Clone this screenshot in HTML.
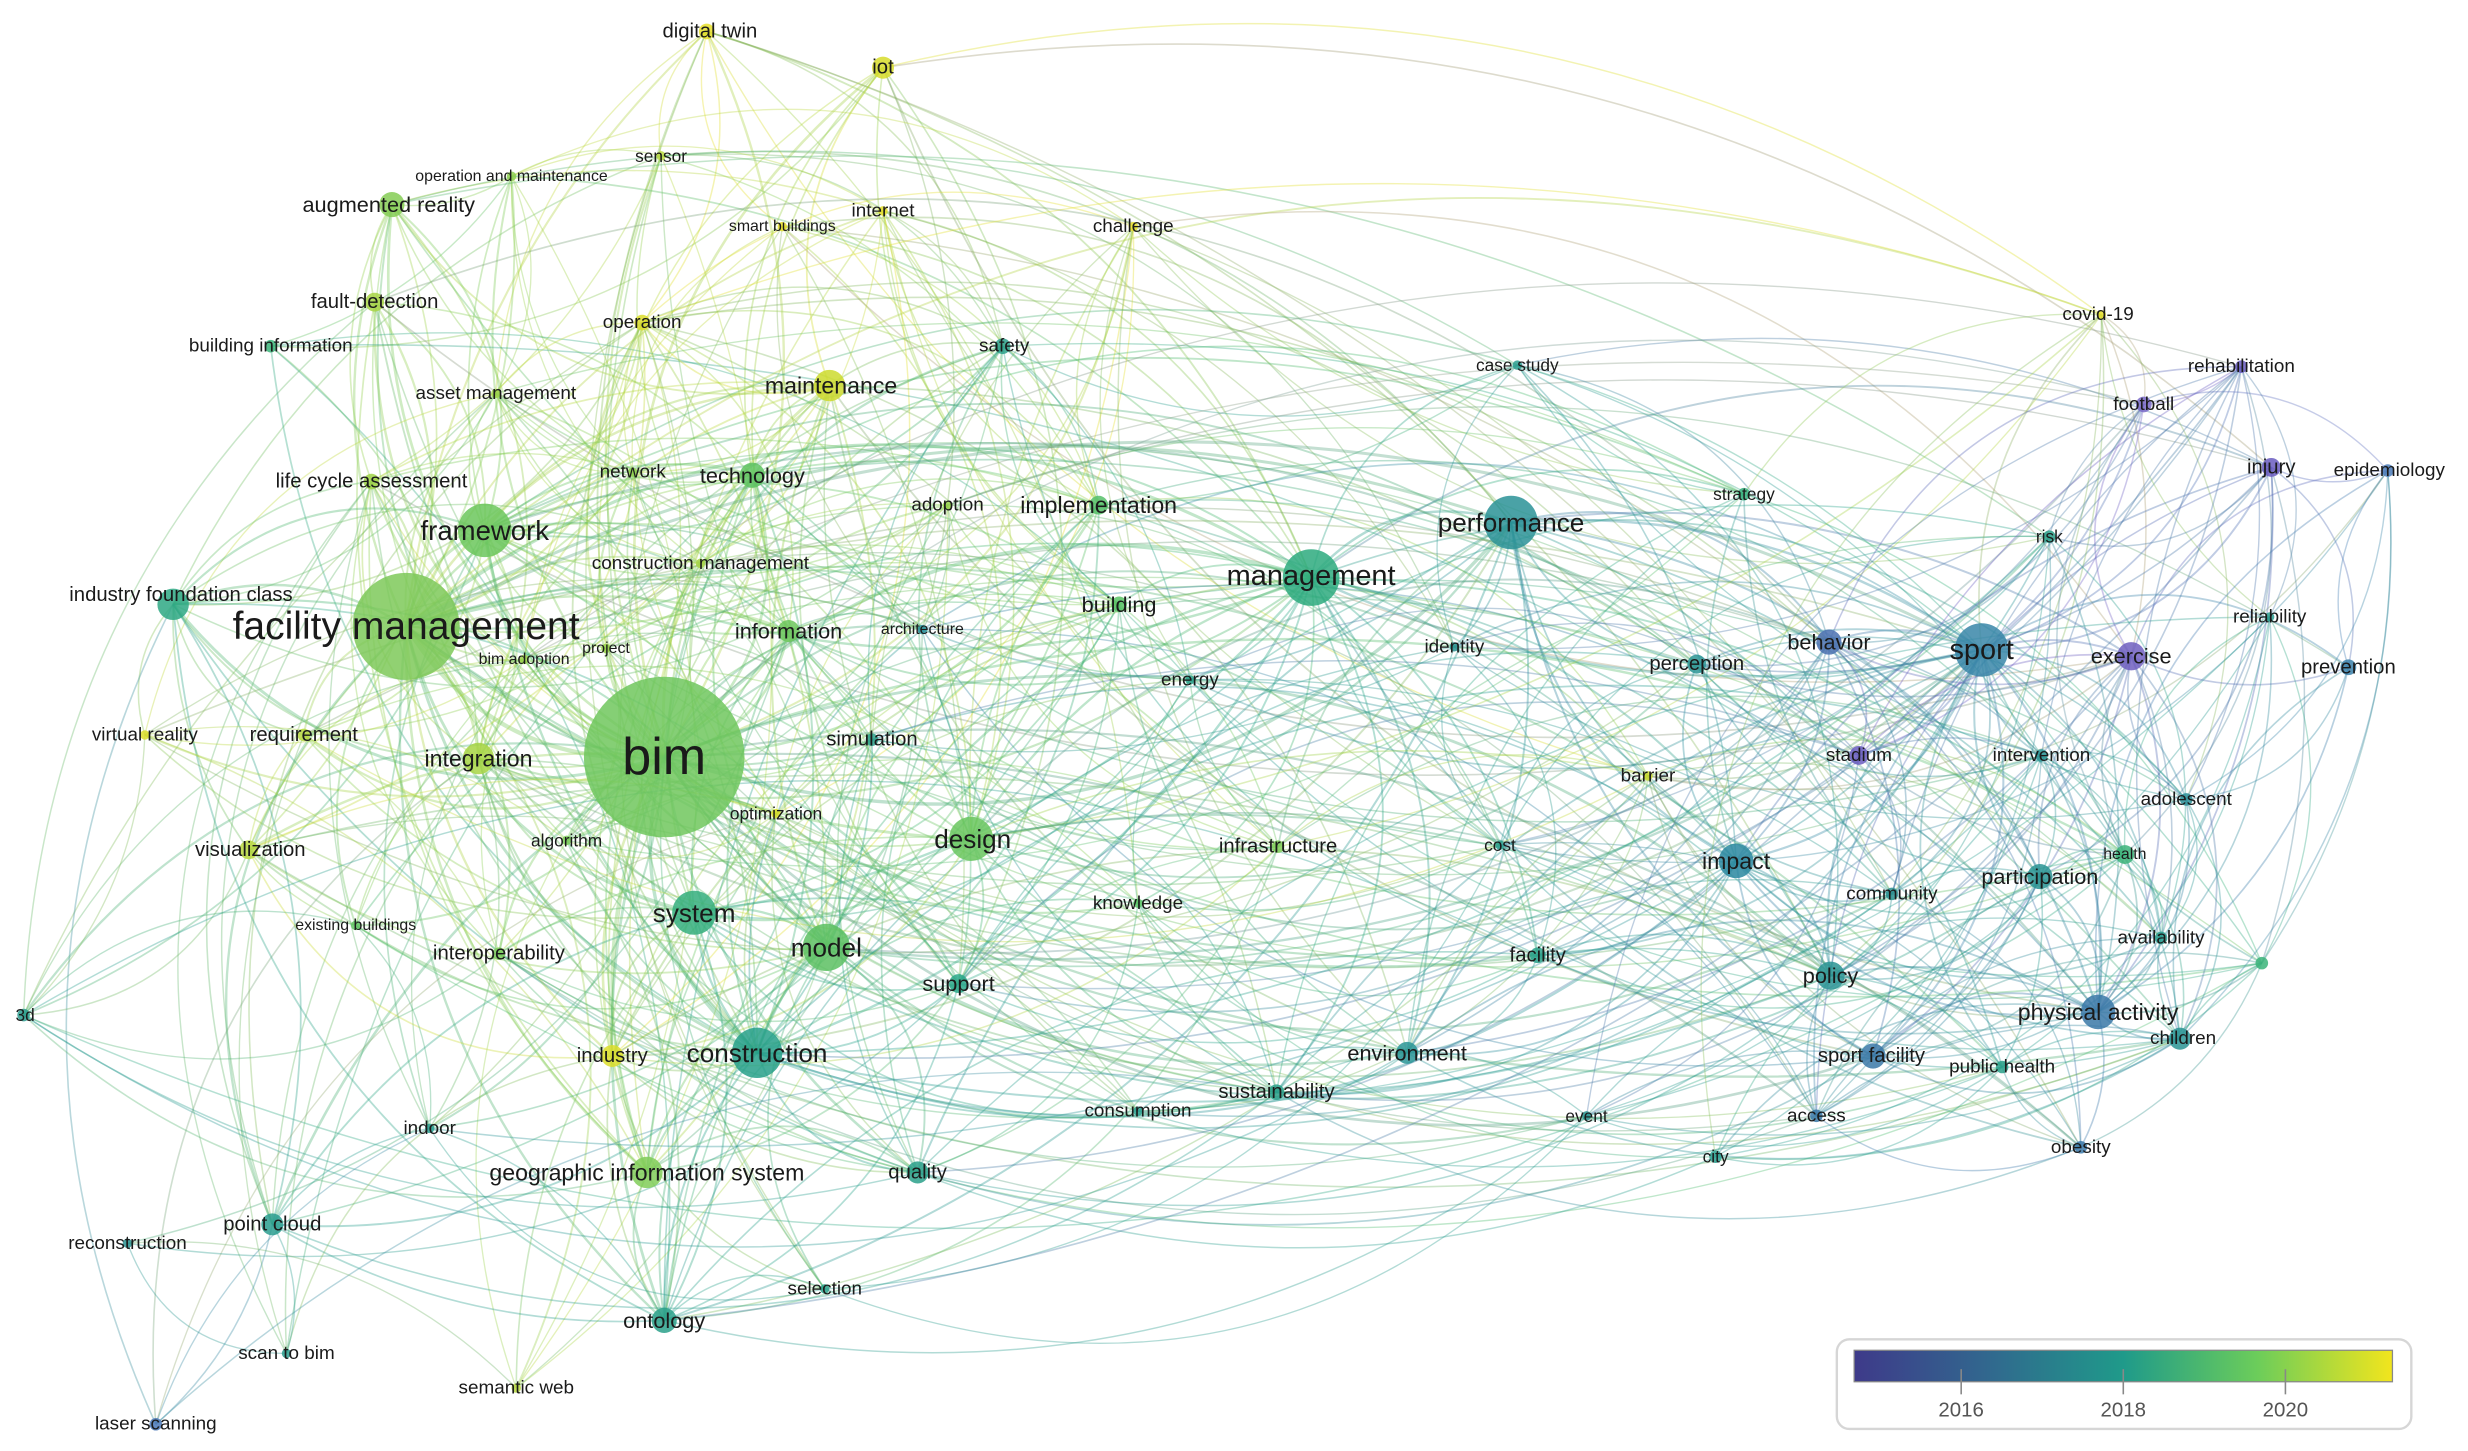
<!DOCTYPE html>
<html><head><meta charset="utf-8"><style>
html,body{margin:0;padding:0;background:#fff;}
svg{display:block;}
text{font-family:"Liberation Sans",sans-serif;fill:#1a1a1a;text-anchor:middle;dominant-baseline:central;}
</style></head><body>
<svg id="s" width="2468" height="1451" viewBox="0 0 1568 922" preserveAspectRatio="none" xmlns="http://www.w3.org/2000/svg">
<defs><linearGradient id="vg" x1="0" x2="1" y1="0" y2="0">
<stop offset="0" stop-color="#3e3a8a"/><stop offset="0.25" stop-color="#31688e"/><stop offset="0.5" stop-color="#1f9a8a"/><stop offset="0.75" stop-color="#6ccd5a"/><stop offset="1" stop-color="#f2e51d"/></linearGradient></defs>
<g id="edges" fill="none"></g>
<g id="nodes" opacity="0.85">
<circle cx="449" cy="20" r="5" fill="#e6df2a"/>
<circle cx="561" cy="43" r="7" fill="#d7dc2a"/>
<circle cx="420" cy="99" r="3" fill="#b8d840"/>
<circle cx="325" cy="112" r="3" fill="#8ccf50"/>
<circle cx="249" cy="130" r="8" fill="#86cd55"/>
<circle cx="497" cy="144" r="3" fill="#e6df2a"/>
<circle cx="561" cy="134" r="3" fill="#e6df2a"/>
<circle cx="720" cy="144" r="3" fill="#ece130"/>
<circle cx="238" cy="192" r="6" fill="#a8d545"/>
<circle cx="172" cy="220" r="4" fill="#3cb47a"/>
<circle cx="408" cy="205" r="5" fill="#dcdd2a"/>
<circle cx="637" cy="220" r="5" fill="#2aa08a"/>
<circle cx="527" cy="245" r="10" fill="#cdda2e"/>
<circle cx="315" cy="250" r="3" fill="#a0d448"/>
<circle cx="236" cy="306" r="5" fill="#a0d448"/>
<circle cx="402" cy="300" r="3" fill="#90d04e"/>
<circle cx="478" cy="302" r="8" fill="#60c462"/>
<circle cx="602" cy="321" r="3" fill="#98d24a"/>
<circle cx="698" cy="321" r="6" fill="#55c068"/>
<circle cx="308" cy="337" r="17" fill="#6cc75c"/>
<circle cx="445" cy="358" r="3" fill="#a8d545"/>
<circle cx="110" cy="384" r="10" fill="#2ea884"/>
<circle cx="258" cy="398" r="34" fill="#7ec95a"/>
<circle cx="333" cy="419" r="3" fill="#9ad24a"/>
<circle cx="385" cy="412" r="3" fill="#9ad24a"/>
<circle cx="501" cy="401" r="7" fill="#6cc75c"/>
<circle cx="586" cy="400" r="3" fill="#2a8f9a"/>
<circle cx="711" cy="384" r="5" fill="#58c264"/>
<circle cx="833" cy="367" r="18" fill="#2daa7e"/>
<circle cx="960" cy="332" r="17" fill="#2a9296"/>
<circle cx="964" cy="232" r="3" fill="#2a9d8f"/>
<circle cx="1108" cy="314" r="4" fill="#35b07c"/>
<circle cx="924" cy="411" r="3" fill="#2a9090"/>
<circle cx="756" cy="432" r="3" fill="#2aa08a"/>
<circle cx="422" cy="481" r="51" fill="#70c75e"/>
<circle cx="92" cy="467" r="3" fill="#dcdd2a"/>
<circle cx="193" cy="467" r="4" fill="#b8d840"/>
<circle cx="304" cy="482" r="10" fill="#a8d545"/>
<circle cx="554" cy="470" r="4" fill="#2aa08a"/>
<circle cx="493" cy="517" r="3" fill="#dcdd2a"/>
<circle cx="360" cy="534" r="3" fill="#7ccc5a"/>
<circle cx="617" cy="533" r="14" fill="#68c55e"/>
<circle cx="812" cy="538" r="4" fill="#80cc58"/>
<circle cx="158" cy="540" r="6" fill="#b8d840"/>
<circle cx="723" cy="574" r="3" fill="#58c264"/>
<circle cx="953" cy="537" r="3" fill="#2a9d8f"/>
<circle cx="1047" cy="493" r="3" fill="#cdda2e"/>
<circle cx="226" cy="588" r="3" fill="#60c462"/>
<circle cx="441" cy="580" r="14" fill="#34ae7c"/>
<circle cx="525" cy="602" r="15" fill="#5cc062"/>
<circle cx="317" cy="606" r="4" fill="#7ccc5a"/>
<circle cx="609" cy="625" r="6" fill="#2aa88a"/>
<circle cx="977" cy="607" r="5" fill="#2aa08a"/>
<circle cx="15" cy="645" r="4" fill="#2a9d8f"/>
<circle cx="389" cy="671" r="7" fill="#dcdd2a"/>
<circle cx="481" cy="669" r="16" fill="#27a08a"/>
<circle cx="894" cy="669" r="7" fill="#2a9596"/>
<circle cx="811" cy="694" r="5" fill="#2aa08a"/>
<circle cx="723" cy="706" r="3" fill="#2a9d8f"/>
<circle cx="1008" cy="709" r="3" fill="#2a9490"/>
<circle cx="273" cy="717" r="3" fill="#2a9d8f"/>
<circle cx="411" cy="745" r="10" fill="#80cc58"/>
<circle cx="583" cy="745" r="7" fill="#2aa08a"/>
<circle cx="173" cy="778" r="7" fill="#2a9d8f"/>
<circle cx="81" cy="790" r="3" fill="#2a9090"/>
<circle cx="524" cy="819" r="3" fill="#2aa08a"/>
<circle cx="422" cy="839" r="8" fill="#2aa08a"/>
<circle cx="182" cy="860" r="3" fill="#2a9d8f"/>
<circle cx="328" cy="882" r="3" fill="#b8d840"/>
<circle cx="99" cy="905" r="4" fill="#4a78b8"/>
<circle cx="1335" cy="200" r="3" fill="#e6df2a"/>
<circle cx="1424" cy="233" r="4" fill="#6a5cc0"/>
<circle cx="1362" cy="257" r="5" fill="#7a6ac8"/>
<circle cx="1443" cy="297" r="6" fill="#6a5cc0"/>
<circle cx="1517" cy="299" r="4" fill="#4a7ab8"/>
<circle cx="1302" cy="341" r="4" fill="#2aa08a"/>
<circle cx="1442" cy="392" r="3" fill="#2a9d8f"/>
<circle cx="1162" cy="408" r="8" fill="#4a70b0"/>
<circle cx="1259" cy="413" r="17" fill="#3886a8"/>
<circle cx="1354" cy="417" r="9" fill="#7060c0"/>
<circle cx="1492" cy="424" r="5" fill="#3a80aa"/>
<circle cx="1078" cy="422" r="6" fill="#2a9494"/>
<circle cx="1181" cy="480" r="6" fill="#6a5cc0"/>
<circle cx="1297" cy="480" r="4" fill="#2a9494"/>
<circle cx="1389" cy="508" r="4" fill="#2a8f98"/>
<circle cx="1103" cy="547" r="11" fill="#2a88a0"/>
<circle cx="1350" cy="543" r="6" fill="#3cb47a"/>
<circle cx="1296" cy="557" r="8" fill="#2a9494"/>
<circle cx="1202" cy="568" r="4" fill="#2a9090"/>
<circle cx="1373" cy="596" r="4" fill="#2a9d8f"/>
<circle cx="1437" cy="612" r="4" fill="#3cb47a"/>
<circle cx="1163" cy="620" r="9" fill="#2a9494"/>
<circle cx="1333" cy="643" r="11" fill="#3a78a8"/>
<circle cx="1385" cy="660" r="7" fill="#2a9494"/>
<circle cx="1190" cy="671" r="8" fill="#3a78a8"/>
<circle cx="1272" cy="678" r="4" fill="#2aa08a"/>
<circle cx="1154" cy="709" r="4" fill="#3a78a8"/>
<circle cx="1090" cy="735" r="4" fill="#2a9d8f"/>
<circle cx="1322" cy="729" r="4" fill="#3a78a8"/>
</g>
<g id="labels">
<text x="451" y="20" font-size="14">digital twin</text>
<text x="561" y="43" font-size="14">iot</text>
<text x="420" y="99" font-size="12">sensor</text>
<text x="325" y="112" font-size="11">operation and maintenance</text>
<text x="247" y="130" font-size="15">augmented reality</text>
<text x="497" y="144" font-size="11">smart buildings</text>
<text x="561" y="134" font-size="13">internet</text>
<text x="720" y="144" font-size="13">challenge</text>
<text x="238" y="192" font-size="14">fault-detection</text>
<text x="172" y="220" font-size="13">building information</text>
<text x="408" y="205" font-size="13">operation</text>
<text x="638" y="220" font-size="13">safety</text>
<text x="528" y="245" font-size="16">maintenance</text>
<text x="315" y="250" font-size="13">asset management</text>
<text x="236" y="306" font-size="14">life cycle assessment</text>
<text x="402" y="300" font-size="13">network</text>
<text x="478" y="302" font-size="15">technology</text>
<text x="602" y="321" font-size="13">adoption</text>
<text x="698" y="321" font-size="16">implementation</text>
<text x="308" y="337" font-size="19">framework</text>
<text x="445" y="358" font-size="13">construction management</text>
<text x="115" y="378" font-size="14">industry foundation class</text>
<text x="258" y="398" font-size="27">facility management</text>
<text x="333" y="419" font-size="11">bim adoption</text>
<text x="385" y="412" font-size="11">project</text>
<text x="501" y="401" font-size="15">information</text>
<text x="586" y="400" font-size="11">architecture</text>
<text x="711" y="384" font-size="15">building</text>
<text x="833" y="366" font-size="20">management</text>
<text x="960" y="332" font-size="18">performance</text>
<text x="964" y="232" font-size="12">case study</text>
<text x="1108" y="314" font-size="12">strategy</text>
<text x="924" y="411" font-size="13">identity</text>
<text x="756" y="432" font-size="13">energy</text>
<text x="422" y="481" font-size="36">bim</text>
<text x="92" y="467" font-size="13">virtual reality</text>
<text x="193" y="467" font-size="14">requirement</text>
<text x="304" y="482" font-size="16">integration</text>
<text x="554" y="470" font-size="14">simulation</text>
<text x="493" y="517" font-size="12">optimization</text>
<text x="360" y="534" font-size="12">algorithm</text>
<text x="618" y="533" font-size="18">design</text>
<text x="812" y="538" font-size="14">infrastructure</text>
<text x="159" y="540" font-size="14">visualization</text>
<text x="723" y="574" font-size="13">knowledge</text>
<text x="953" y="537" font-size="12">cost</text>
<text x="1047" y="493" font-size="13">barrier</text>
<text x="226" y="588" font-size="11">existing buildings</text>
<text x="441" y="580" font-size="18">system</text>
<text x="525" y="602" font-size="18">model</text>
<text x="317" y="606" font-size="14">interoperability</text>
<text x="609" y="625" font-size="15">support</text>
<text x="977" y="607" font-size="14">facility</text>
<text x="16" y="645" font-size="12">3d</text>
<text x="389" y="671" font-size="14">industry</text>
<text x="481" y="669" font-size="18">construction</text>
<text x="894" y="669" font-size="15">environment</text>
<text x="811" y="694" font-size="14">sustainability</text>
<text x="723" y="706" font-size="13">consumption</text>
<text x="1008" y="709" font-size="12">event</text>
<text x="273" y="717" font-size="13">indoor</text>
<text x="411" y="745" font-size="16">geographic information system</text>
<text x="583" y="745" font-size="14">quality</text>
<text x="173" y="778" font-size="14">point cloud</text>
<text x="81" y="790" font-size="13">reconstruction</text>
<text x="524" y="819" font-size="13">selection</text>
<text x="422" y="839" font-size="15">ontology</text>
<text x="182" y="860" font-size="13">scan to bim</text>
<text x="328" y="882" font-size="13">semantic web</text>
<text x="99" y="905" font-size="13">laser scanning</text>
<text x="1333" y="200" font-size="13">covid-19</text>
<text x="1424" y="233" font-size="13">rehabilitation</text>
<text x="1362" y="257" font-size="13">football</text>
<text x="1443" y="297" font-size="14">injury</text>
<text x="1518" y="299" font-size="13">epidemiology</text>
<text x="1302" y="341" font-size="12">risk</text>
<text x="1442" y="392" font-size="13">reliability</text>
<text x="1162" y="408" font-size="15">behavior</text>
<text x="1259" y="413" font-size="20">sport</text>
<text x="1354" y="417" font-size="15">exercise</text>
<text x="1492" y="424" font-size="14">prevention</text>
<text x="1078" y="422" font-size="14">perception</text>
<text x="1181" y="480" font-size="13">stadium</text>
<text x="1297" y="480" font-size="13">intervention</text>
<text x="1389" y="508" font-size="13">adolescent</text>
<text x="1103" y="547" font-size="16">impact</text>
<text x="1350" y="543" font-size="11">health</text>
<text x="1296" y="557" font-size="15">participation</text>
<text x="1202" y="568" font-size="13">community</text>
<text x="1373" y="596" font-size="13">availability</text>
<text x="1163" y="620" font-size="15">policy</text>
<text x="1333" y="643" font-size="16">physical activity</text>
<text x="1387" y="660" font-size="13">children</text>
<text x="1189" y="671" font-size="14">sport facility</text>
<text x="1272" y="678" font-size="13">public health</text>
<text x="1154" y="709" font-size="13">access</text>
<text x="1090" y="735" font-size="12">city</text>
<text x="1322" y="729" font-size="13">obesity</text>
</g>
<g id="legend">
<rect x="1167" y="851" width="365" height="57" rx="8" fill="#fff" stroke="#d6d6d6" stroke-width="1.5"/>
<rect x="1178" y="858" width="342" height="20" fill="url(#vg)" stroke="#888" stroke-width="0.8"/>
<line x1="1246" y1="870" x2="1246" y2="886" stroke="#888" stroke-width="1"/>
<line x1="1349" y1="870" x2="1349" y2="886" stroke="#888" stroke-width="1"/>
<line x1="1452" y1="870" x2="1452" y2="886" stroke="#888" stroke-width="1"/>
<text x="1246" y="896" font-size="13" style="fill:#555">2016</text>
<text x="1349" y="896" font-size="13" style="fill:#555">2018</text>
<text x="1452" y="896" font-size="13" style="fill:#555">2020</text>
</g>
</svg>
<script>
(function(){
var ns="http://www.w3.org/2000/svg";
[].slice.call(document.querySelectorAll('#labels text')).forEach(function(t){t.setAttribute('font-size',(+t.getAttribute('font-size')*0.92).toFixed(1));});
var cs=[].slice.call(document.querySelectorAll('#nodes circle'));
var N=cs.map(function(c){return {x:+c.getAttribute('cx'),y:+c.getAttribute('cy'),r:+c.getAttribute('r'),c:c.getAttribute('fill')};});
function hx(h){return [parseInt(h.substr(1,2),16),parseInt(h.substr(3,2),16),parseInt(h.substr(5,2),16)];}
var seed=12345;function rnd(){seed=(seed*1103515245+12345)%2147483648;return seed/2147483648;}
var g=document.getElementById('edges');var frag=document.createDocumentFragment();
for(var i=0;i<N.length;i++)for(var j=i+1;j<N.length;j++){
 var a=N[i],b=N[j];var dx=b.x-a.x,dy=b.y-a.y,d=Math.sqrt(dx*dx+dy*dy);
 var w=(Math.sqrt(a.r*b.r))/7;
 var p=Math.min(0.9,w*Math.exp(-d/360)*0.75);
 if(rnd()>p)continue;
 var ca=hx(a.c),cb=hx(b.c);
 var col='rgb('+((ca[0]+cb[0])>>1)+','+((ca[1]+cb[1])>>1)+','+((ca[2]+cb[2])>>1)+')';
 var mx=(a.x+b.x)/2,my=(a.y+b.y)/2,k=0.15+rnd()*0.2;
 var nx=-dy,ny=dx; if((mx-760)*nx+(my-450)*ny<0){nx=-nx;ny=-ny;}
 if(rnd()<0.3){nx=-nx;ny=-ny;}
 var cx=mx+nx*k,cy=my+ny*k;
 cx=Math.max(-20,Math.min(1590,cx));cy=Math.max(-60,Math.min(960,cy));
 var pth=document.createElementNS(ns,'path');
 pth.setAttribute('d','M'+a.x+' '+a.y+' Q'+cx.toFixed(1)+' '+cy.toFixed(1)+' '+b.x+' '+b.y);
 pth.setAttribute('stroke',col);
 pth.setAttribute('stroke-width',(0.7+Math.min(2,w*0.35)).toFixed(2));
 pth.setAttribute('stroke-opacity','0.36');
 frag.appendChild(pth);
}
g.appendChild(frag);
})();
</script>
</body></html>
